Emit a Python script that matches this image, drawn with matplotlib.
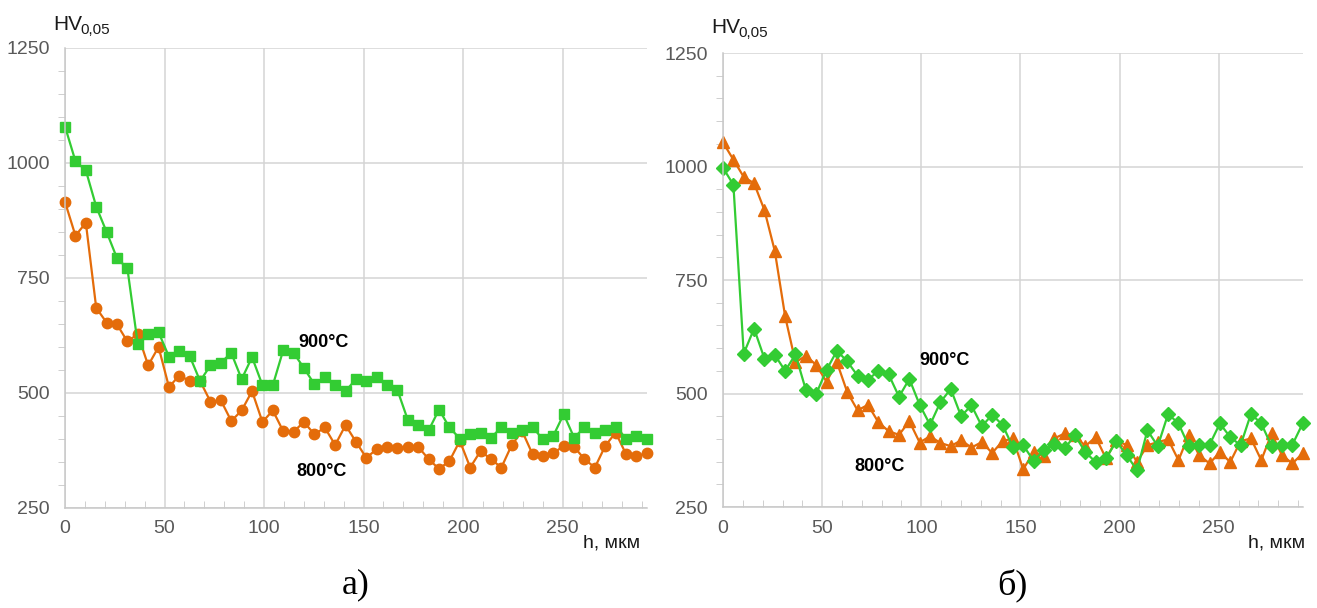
#!/usr/bin/env python3

import numpy as np
import matplotlib

matplotlib.use("Agg")
import matplotlib.pyplot as plt
from matplotlib.ticker import MultipleLocator

# depth grid, step ~5.22 um
depth = np.arange(57) * 5.22

# panel a)
hv_a_900 = [
    1079, 1004, 984, 905, 850, 793, 771, 606, 628, 632,
    579, 591, 580, 526, 560, 566, 587, 530, 578, 517,
    517, 593, 587, 554, 519, 535, 517, 504, 530, 525,
    535, 517, 506, 441, 430, 419, 464, 425, 401, 410,
    412, 403, 425, 412, 419, 426, 399, 407, 454, 403,
    425, 412, 419, 427, 401, 407, 399,
]
hv_a_800 = [
    915, 842, 870, 685, 653, 649, 612, 628, 560, 600,
    513, 538, 526, 526, 481, 484, 439, 462, 504, 437,
    462, 417, 416, 437, 410, 425, 387, 430, 394, 359,
    378, 383, 380, 383, 383, 356, 335, 352, 396, 338,
    374, 356, 338, 387, 417, 367, 363, 369, 385, 383,
    356, 338, 385, 414, 367, 363, 369,
]

# panel б)
hv_b_900 = [
    997, 960, 588, 643, 577, 585, 550, 586, 508, 499,
    552, 594, 571, 539, 530, 550, 542, 493, 532, 475,
    431, 481, 510, 450, 474, 428, 453, 431, 382, 386,
    352, 375, 388, 379, 408, 371, 349, 357, 395, 364,
    331, 419, 384, 455, 434, 384, 386, 387, 434, 404,
    386, 455, 434, 384, 386, 387, 434,
]
hv_b_800 = [
    1053, 1015, 977, 963, 904, 814, 670, 569, 583, 563,
    526, 569, 503, 463, 475, 437, 417, 409, 439, 392,
    406, 391, 384, 397, 381, 393, 369, 395, 401, 333,
    371, 362, 401, 412, 408, 384, 404, 357, 397, 386,
    349, 386, 393, 399, 353, 409, 364, 346, 371, 349,
    395, 401, 353, 412, 364, 346, 368,
]

GREEN = "#33cc33"
ORANGE = "#e46c0a"
TICK_GRAY = "#595959"
LINE_GRAY = "#c8c8c8"

plt.rcParams["font.family"] = ["Liberation Sans", "DejaVu Sans"]


def style_axes(ax):
    ax.set_xlim(0, 292.5)
    ax.set_ylim(250, 1250)
    ax.xaxis.set_major_locator(MultipleLocator(50))
    ax.xaxis.set_minor_locator(MultipleLocator(10))
    ax.yaxis.set_major_locator(MultipleLocator(250))
    ax.yaxis.set_minor_locator(MultipleLocator(50))
    ax.set_xticks([0, 50, 100, 150, 200, 250])
    ax.grid(True, which="major", color="#d4d4d4", linewidth=1.1)
    ax.set_axisbelow(True)
    for side in ("top", "right"):
        ax.spines[side].set_visible(False)
    for side in ("left", "bottom"):
        ax.spines[side].set_color(LINE_GRAY)
        ax.spines[side].set_linewidth(1.1)
    ax.tick_params(axis="y", which="major", length=0, pad=11, labelsize=14,
                   labelcolor=TICK_GRAY)
    ax.tick_params(axis="y", which="minor", direction="out", length=5,
                   color=LINE_GRAY)
    ax.tick_params(axis="x", which="major", length=0, pad=9, labelsize=14,
                   labelcolor=TICK_GRAY)
    ax.tick_params(axis="x", which="minor", direction="in", length=5,
                   color=LINE_GRAY)


fig = plt.figure(figsize=(13.17, 6.08), dpi=100)
ax_a = fig.add_axes([0.0494, 0.1645, 0.442, 0.7566])
ax_b = fig.add_axes([0.549, 0.1661, 0.4404, 0.7467])

ax_a.plot(depth, hv_a_800, color=ORANGE, marker="o", markersize=7.5,
          linewidth=1.6, clip_on=False)
ax_a.plot(depth, hv_a_900, color=GREEN, marker="s", markersize=7.5,
          linewidth=1.6, clip_on=False)

ax_b.plot(depth, hv_b_800, color=ORANGE, marker="^", markersize=8.5,
          linewidth=1.6, clip_on=False)
ax_b.plot(depth, hv_b_900, color=GREEN, marker="D", markersize=7,
          linewidth=1.6, clip_on=False)

for ax in (ax_a, ax_b):
    style_axes(ax)

ax_a.text(117, 609, "900°C", fontsize=13, fontweight="bold", va="center")
ax_a.text(116, 330, "800°C", fontsize=13, fontweight="bold", va="center")
ax_b.text(99, 572, "900°C", fontsize=13, fontweight="bold", va="center")
ax_b.text(66, 340, "800°C", fontsize=13, fontweight="bold", va="center")

# y-axis title: "HV" with a "0,05" subscript
for x_hv, y_hv in ((53, 30), (711, 33)):
    fig.text(x_hv / 1317, 1 - y_hv / 608, "HV", fontsize=15,
             va="baseline", color="#1a1a1a")
    fig.text((x_hv + 27) / 1317, 1 - (y_hv + 4) / 608, "0,05", fontsize=11,
             va="baseline", color="#1a1a1a")

fig.text(583 / 1317, 1 - 543 / 608, "h, мкм", fontsize=14, va="center",
         color="#1a1a1a")
fig.text(1248 / 1317, 1 - 543 / 608, "h, мкм", fontsize=14, va="center",
         color="#1a1a1a")

fig.text(356 / 1317, 1 - 585 / 608, "а)", fontsize=26, ha="center",
         va="center", family="Liberation Serif")
fig.text(1012 / 1317, 1 - 585 / 608, "б)", fontsize=26, ha="center",
         va="center", family="Liberation Serif")

fig.savefig("out.png", dpi=100)
